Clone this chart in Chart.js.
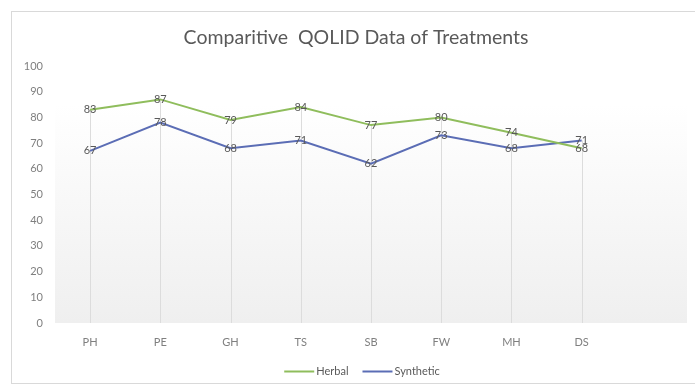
<!DOCTYPE html>
<html>
<head>
<meta charset="utf-8">
<script src="https://cdn.jsdelivr.net/npm/chart.js@4"></script>
<style>
  html, body { margin: 0; padding: 0; background: #ffffff; }
  #wrap { position: relative; width: 695px; height: 387px; overflow: hidden; }
  #frame { position: absolute; left: 11px; top: 11px; width: 700px; height: 373px; border: 1px solid #d9d9d9; box-sizing: border-box; }
  canvas { position: absolute; left: 0; top: 0; }
</style>
</head>
<body>
<div id="wrap">
  <div id="frame"></div>
  <canvas id="c" width="695" height="387"></canvas>
</div>
<script>
// QOLID domains (the trailing empty slot leaves room on the right of the axis)
const categories = ['PH', 'PE', 'GH', 'TS', 'SB', 'FW', 'MH', 'DS', ''];
const herbal     = [83, 87, 79, 84, 77, 80, 74, 68, null];
const synthetic  = [67, 78, 68, 71, 62, 73, 68, 71, null];
const yTicks     = [0, 10, 20, 30, 40, 50, 60, 70, 80, 90, 100];
const chartTitle = 'Comparitive  QOLID Data of Treatments';

const FONT = 'Lato, "Liberation Sans", sans-serif';

// soft white-to-grey fill behind the plot
const plotBackground = {
  id: 'plotBackground',
  beforeDraw(chart) {
    const { ctx, chartArea: a } = chart;
    const g = ctx.createLinearGradient(0, a.top, 0, a.bottom);
    g.addColorStop(0, '#ffffff');
    g.addColorStop(0.15, '#ffffff');
    g.addColorStop(1, '#efefef');
    ctx.save();
    ctx.fillStyle = g;
    ctx.fillRect(a.left, a.top, a.right - a.left, a.bottom - a.top);
    ctx.restore();
  }
};

// drop lines from the highest series value down to zero
const dropLines = {
  id: 'dropLines',
  beforeDatasetsDraw(chart) {
    const { ctx, scales: { x, y } } = chart;
    ctx.save();
    ctx.strokeStyle = '#dcdcdc';
    ctx.lineWidth = 1;
    categories.forEach((c, i) => {
      const vals = chart.data.datasets.map(d => d.data[i]).filter(v => v != null);
      if (!vals.length) return;
      const px = Math.round(x.getPixelForValue(i)) + 0.5;
      ctx.beginPath();
      ctx.moveTo(px, y.getPixelForValue(Math.max(...vals)));
      ctx.lineTo(px, y.getPixelForValue(0));
      ctx.stroke();
    });
    ctx.restore();
  }
};

// value labels centred on each point
const valueLabels = {
  id: 'valueLabels',
  afterDatasetsDraw(chart) {
    const { ctx } = chart;
    ctx.save();
    ctx.font = '11px ' + FONT;
    ctx.fillStyle = '#595959';
    ctx.textAlign = 'center';
    ctx.textBaseline = 'middle';
    chart.data.datasets.forEach((ds, di) => {
      chart.getDatasetMeta(di).data.forEach((pt, i) => {
        const v = ds.data[i];
        if (v == null) return;
        ctx.fillText(String(v), pt.x, pt.y);
      });
    });
    ctx.restore();
  }
};

// title above the plot and line legend below the axis
const titleAndLegend = {
  id: 'titleAndLegend',
  afterDraw(chart) {
    const { ctx } = chart;
    ctx.save();
    ctx.fillStyle = '#595959';
    ctx.textBaseline = 'middle';
    ctx.textAlign = 'center';
    ctx.font = '19.5px ' + FONT;
    ctx.fillText(chartTitle, 356, 38);

    ctx.font = '11px ' + FONT;
    ctx.textAlign = 'left';
    const lineLen = 30, gap = 2, itemGap = 14, y = 371.5;
    const items = chart.data.datasets.map(d => ({ text: d.label, color: d.borderColor, w: ctx.measureText(d.label).width }));
    const total = items.reduce((s, it) => s + lineLen + gap + it.w, 0) + itemGap * (items.length - 1);
    let x = 362 - total / 2;
    items.forEach(it => {
      ctx.strokeStyle = it.color;
      ctx.lineWidth = 2;
      ctx.beginPath();
      ctx.moveTo(x, y);
      ctx.lineTo(x + lineLen, y);
      ctx.stroke();
      x += lineLen + gap;
      ctx.fillText(it.text, x, y);
      x += it.w + itemGap;
    });
    ctx.restore();
  }
};

new Chart(document.getElementById('c'), {
  type: 'line',
  data: {
    labels: categories,
    datasets: [
      { label: 'Herbal', data: herbal, borderColor: '#8fbd5c', backgroundColor: '#8fbd5c',
        borderWidth: 2, pointRadius: 0, tension: 0, spanGaps: false },
      { label: 'Synthetic', data: synthetic, borderColor: '#5b6db5', backgroundColor: '#5b6db5',
        borderWidth: 2, pointRadius: 0, tension: 0, spanGaps: false }
    ]
  },
  options: {
    responsive: false,
    animation: false,
    layout: { padding: { left: 0, right: 8, top: 66, bottom: 34 } },
    plugins: {
      title: { display: false },
      legend: { display: false },
      tooltip: { enabled: false }
    },
    scales: {
      x: {
        offset: true,
        grid: { display: false, drawTicks: false },
        border: { display: false },
        ticks: { color: '#7f7f7f', font: { family: FONT, size: 11 }, padding: 13, maxRotation: 0 },
        afterFit(s) { s.height = 30; }
      },
      y: {
        min: 0, max: 100,
        afterBuildTicks(s) { s.ticks = yTicks.map(v => ({ value: v })); },
        grid: { display: false, drawTicks: false },
        border: { display: false },
        ticks: { color: '#7f7f7f', font: { family: FONT, size: 11 }, padding: 12 },
        afterFit(s) { s.width = 55; }
      }
    }
  },
  plugins: [plotBackground, dropLines, valueLabels, titleAndLegend]
});
</script>
</body>
</html>
